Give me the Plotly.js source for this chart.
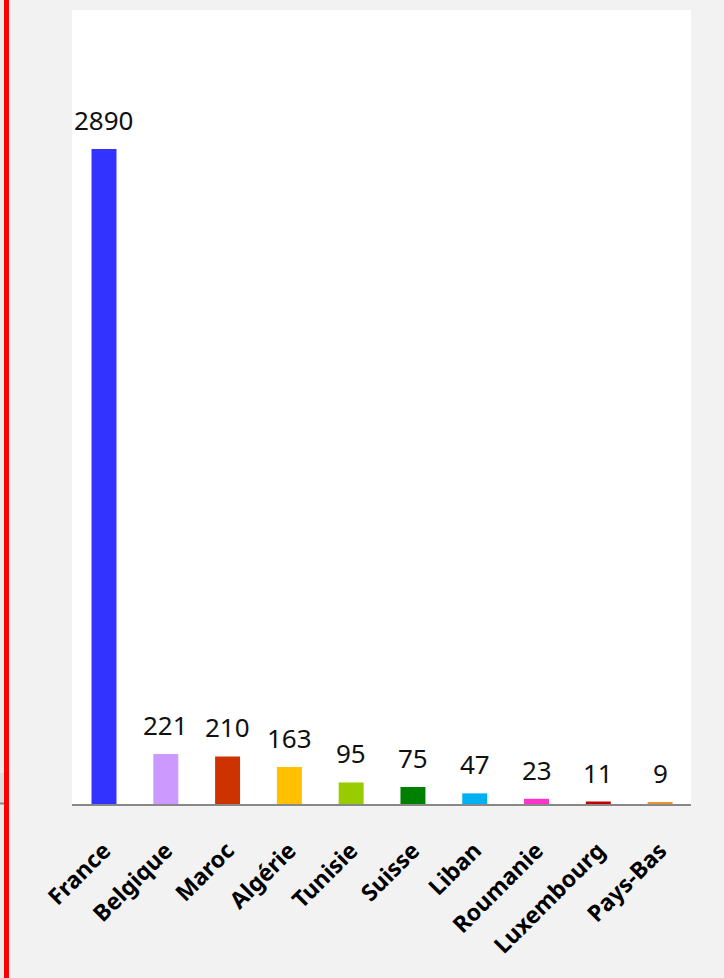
<!DOCTYPE html>
<html>
<head>
<meta charset="utf-8">
<script src="https://cdn.plot.ly/plotly-3.0.1.min.js"></script>
<style>
html,body{margin:0;padding:0;background:#f2f2f2;}
#chart{width:724px;height:978px;}
</style>
</head>
<body>
<div id="chart"></div>
<script>
var countries = ["France", "Belgique", "Maroc", "Algérie", "Tunisie", "Suisse", "Liban", "Roumanie", "Luxembourg", "Pays-Bas"];
var counts = [2890, 221, 210, 163, 95, 75, 47, 23, 11, 9];
var barColors = ["#3333ff", "#cc99ff", "#cc3300", "#ffc000", "#99cc00", "#008000", "#00b0f0", "#ff33cc", "#c00000", "#e8962f"];

var trace = {
  type: "bar",
  x: countries,
  y: counts,
  marker: {color: barColors, line: {width: 0}},
  hoverinfo: "x+y"
};

var annotations = countries.map(function (c, i) {
  return {
    x: c, y: counts[i], xref: "x", yref: "y",
    text: String(counts[i]),
    showarrow: false, yanchor: "bottom", yshift: 9,
    font: {family: "Noto Sans, sans-serif", size: 26, color: "#111111"}
  };
});

var W = 619, H = 794;
var shapes = [
  {type: "line", xref: "paper", yref: "paper",
   x0: (6.5 - 72) / W, x1: (6.5 - 72) / W, y0: -174 / H, y1: 1 + 10 / H,
   line: {color: "#ff0000", width: 5}},
  {type: "rect", xref: "paper", yref: "paper",
   x0: (0 - 72) / W, x1: (4 - 72) / W, y0: -174 / H, y1: 1 + 10 / H,
   fillcolor: "#ebebeb", line: {width: 0}, layer: "below"},
  {type: "rect", xref: "paper", yref: "paper",
   x0: (0 - 72) / W, x1: (4 - 72) / W, y0: 0, y1: 31 / H,
   fillcolor: "#dedede", line: {width: 0}, layer: "below"},
  {type: "line", xref: "paper", yref: "paper",
   x0: (0 - 72) / W, x1: (4 - 72) / W, y0: 0.5 / H, y1: 0.5 / H,
   line: {color: "#888888", width: 2}}
];

var layout = {
  width: 724, height: 978,
  margin: {l: 72, r: 33, t: 10, b: 174, pad: 0},
  paper_bgcolor: "#f2f2f2",
  plot_bgcolor: "#ffffff",
  showlegend: false,
  bargap: 0.596,
  xaxis: {
    type: "category",
    showline: true, linecolor: "#888888", linewidth: 2,
    showgrid: false, zeroline: false, ticks: "",
    tickangle: -45,
    ticklabelstandoff: 22,
    tickfont: {family: "Noto Sans, sans-serif", size: 23, color: "#000000", weight: "bold"},
    fixedrange: true
  },
  yaxis: {
    range: [0, 3503],
    visible: false, showgrid: false, zeroline: false,
    fixedrange: true
  },
  annotations: annotations,
  shapes: shapes
};

Plotly.newPlot("chart", [trace], layout, {displayModeBar: false, staticPlot: true});
</script>
</body>
</html>
